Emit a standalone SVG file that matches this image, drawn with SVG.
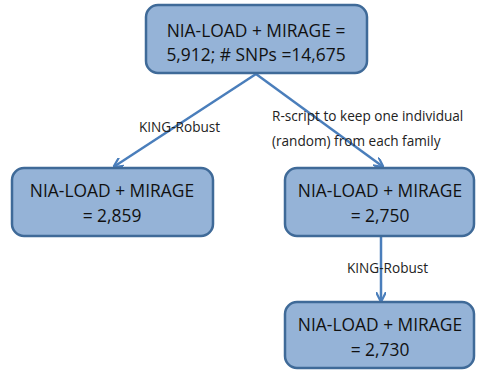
<svg xmlns="http://www.w3.org/2000/svg" width="478" height="371" viewBox="0 0 478 371">
  <style>
    .box { fill: #95b3d7; stroke: #3f6a98; stroke-width: 2.5; }
    .btxt { font-family: "Open Sans", "Liberation Sans", sans-serif; font-size: 17.4px; fill: #111; text-anchor: middle; }
    .lbl { font-family: "Open Sans", "Liberation Sans", sans-serif; font-size: 13.6px; fill: #222; }
    .edge { stroke: #4a7ebb; stroke-width: 2.5; fill: none; marker-end: url(#arr); }
  </style>
  <defs>
    <marker id="arr" viewBox="0 0 10 10" refX="8" refY="5" markerWidth="4" markerHeight="4" orient="auto" markerUnits="strokeWidth">
      <path d="M0,0 L10,5 L0,10" fill="none" stroke="#4a7ebb" stroke-width="2.2"/>
    </marker>
  </defs>
  <rect width="478" height="371" fill="#fff"/>

  <g id="connectors">
    <line class="edge" x1="256" y1="74" x2="115" y2="166"/>
    <line class="edge" x1="256" y1="74" x2="382" y2="166"/>
    <line class="edge" x1="381" y1="237" x2="381" y2="300"/>
    <text class="lbl" x="139" y="132">KING-Robust</text>
    <text class="lbl" x="272" y="121">R-script to keep one individual</text>
    <text class="lbl" x="272" y="146">(random) from each family</text>
    <text class="lbl" x="347" y="273">KING-Robust</text>
  </g>

  <g id="top">
    <rect class="box" x="146" y="5" width="221" height="68" rx="12"/>
    <text class="btxt" x="256" y="37">NIA-LOAD + MIRAGE =</text>
    <text class="btxt" x="256" y="61">5,912; # SNPs =14,675</text>
  </g>

  <g id="left">
    <rect class="box" x="12" y="168" width="201" height="68" rx="12"/>
    <text class="btxt" x="112" y="197">NIA-LOAD + MIRAGE</text>
    <text class="btxt" x="112" y="222">= 2,859</text>
  </g>

  <g id="middle">
    <rect class="box" x="285" y="168" width="189" height="68" rx="12"/>
    <text class="btxt" x="380" y="197">NIA-LOAD + MIRAGE</text>
    <text class="btxt" x="380" y="222">= 2,750</text>
  </g>

  <g id="bottom">
    <rect class="box" x="285" y="302" width="189" height="66" rx="12"/>
    <text class="btxt" x="380" y="331">NIA-LOAD + MIRAGE</text>
    <text class="btxt" x="380" y="356">= 2,730</text>
  </g>
</svg>
